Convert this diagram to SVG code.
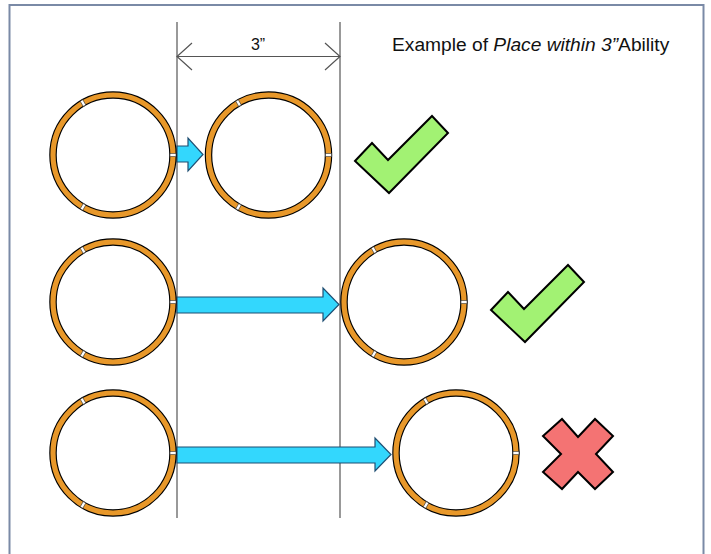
<svg xmlns="http://www.w3.org/2000/svg" width="711" height="554" viewBox="0 0 711 554">
<defs>
<style>
.ringo{fill:none;stroke:#000;stroke-width:7.5}
.ringi{fill:none;stroke:#e8982a;stroke-width:5.2}
.notch{fill:#fff;stroke:#333;stroke-width:0.6}
.guide{stroke:#555;stroke-width:1.2;fill:none}
.arrow{fill:#33d7fd;stroke:#1f4f73;stroke-width:1.2}
.check{fill:#a2f273;stroke:#000;stroke-width:2;stroke-linejoin:miter}
.cross{fill:#f47373;stroke:#000;stroke-width:2}
.t{font-family:"Liberation Sans",Arial,sans-serif;font-size:16px;fill:#111}
</style>
<g id="ring">
<circle r="60" class="ringo"/>
<circle r="60" class="ringi"/>
<rect x="57" y="-1.5" width="6" height="3" class="notch"/>
<rect x="57" y="-1.5" width="6" height="3" class="notch" transform="rotate(-120)"/>
<rect x="57" y="-1.5" width="6" height="3" class="notch" transform="rotate(120)"/>
</g>
</defs>
<rect x="9.5" y="5" width="694" height="560" fill="#fff" stroke="#7a8aa6" stroke-width="2"/>
<g id="connectors">
<line x1="177" y1="22" x2="177" y2="518" class="guide"/>
<line x1="340" y1="22" x2="340" y2="518" class="guide"/>
<line x1="177" y1="56.5" x2="340" y2="56.5" class="guide"/>
<polyline points="192,43 177,56.5 192,70" class="guide"/>
<polyline points="325,43 340,56.5 325,70" class="guide"/>
<polygon class="arrow" points="177,146 188,146 188,138 203,154.5 188,171 188,162 177,162"/>
<polygon class="arrow" points="177,297 323,297 323,288 339,304.5 323,321 323,313 177,313"/>
<polygon class="arrow" points="177,447 375,447 375,438 391,454.5 375,471 375,463 177,463"/>
</g>
<g id="dim-label"><text class="t" x="258" y="50" text-anchor="middle">3”</text></g>
<g id="title"><text class="t" x="392" y="51" style="font-size:19.2px">Example of <tspan font-style="italic">Place within 3”</tspan>Ability</text></g>
<g id="r1a"><use href="#ring" x="113" y="155"/></g>
<g id="r1b"><use href="#ring" x="268.5" y="155"/></g>
<g id="r2a"><use href="#ring" x="113" y="302"/></g>
<g id="r2b"><use href="#ring" x="404" y="302"/></g>
<g id="r3a"><use href="#ring" x="113" y="453"/></g>
<g id="r3b"><use href="#ring" x="456" y="453"/></g>
<g id="check1"><polygon class="check" points="355,161 372,143 388,160 432,116 448,133 389,193"/></g>
<g id="check2"><polygon class="check" points="491,310 508,292 524,309 568,265 584,282 525,342"/></g>
<g id="cross"><polygon class="cross" points="578,437 595,419 613,436 596,454 613,472 595,489 578,472 562,489 543,472 561,454 543,436 562,419"/></g>
</svg>
